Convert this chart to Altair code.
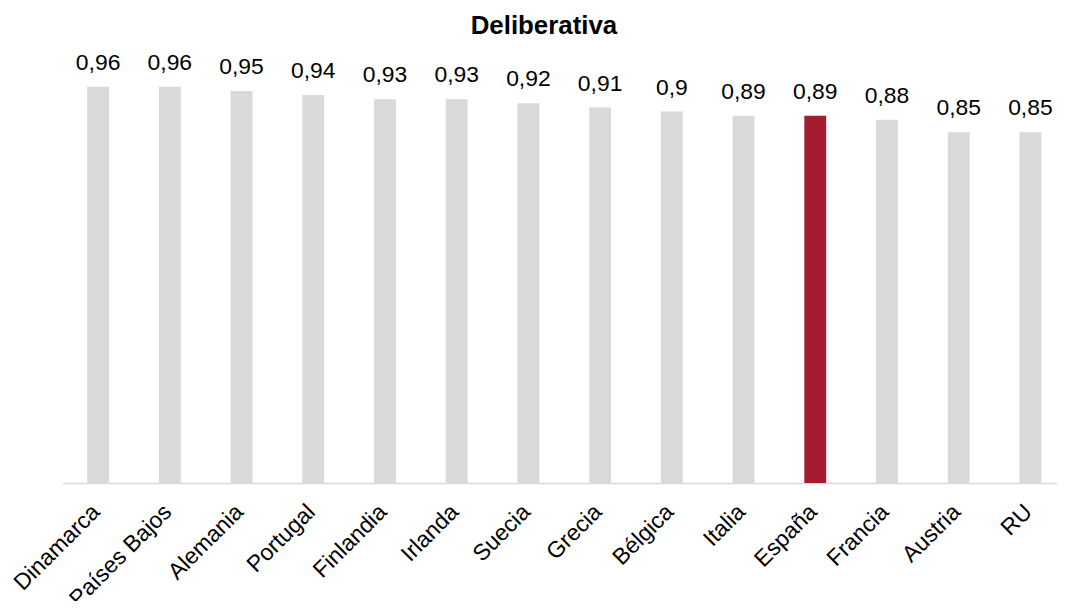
import altair as alt
import pandas as pd

title_text = "Deliberativa"
countries = ["Dinamarca", "Países Bajos", "Alemania", "Portugal", "Finlandia", "Irlanda",
             "Suecia", "Grecia", "Bélgica", "Italia", "España", "Francia", "Austria", "RU"]
values = [0.96, 0.96, 0.95, 0.94, 0.93, 0.93, 0.92, 0.91, 0.90, 0.89, 0.89, 0.88, 0.85, 0.85]
highlight = "España"

df = pd.DataFrame({
    "pais": countries,
    "valor": values,
    "etiqueta": [str(v).replace(".", ",") for v in values],
    "destacado": ["si" if c == highlight else "no" for c in countries],
})

FONT = "Liberation Sans"

x = alt.X("pais:N", sort=countries, title=None,
          scale=alt.Scale(paddingInner=0.695, paddingOuter=0.28, align=0.61),
          axis=alt.Axis(labelAngle=-45, labelAlign="right", labelBaseline="alphabetic",
                        labelPadding=30, labelOffset=3, ticks=False, labelFontSize=23,
                        labelFont=FONT, labelColor="#000000", domainColor="#D9D9D9",
                        domainWidth=1.5, grid=False))
y = alt.Y("valor:Q", scale=alt.Scale(domain=[0, 1], nice=False, zero=True), axis=None)

bars = alt.Chart(df).mark_bar().encode(
    x=x, y=y,
    color=alt.Color("destacado:N",
                    scale=alt.Scale(domain=["no", "si"], range=["#D9D9D9", "#A51C30"]),
                    legend=None),
)

labels = alt.Chart(df).mark_text(baseline="alphabetic", align="center", dy=-17,
                                 fontSize=23, font=FONT, color="#000000").encode(
    x=alt.X("pais:N", sort=countries), y="valor:Q", text="etiqueta:N")

title = alt.Chart(pd.DataFrame({"t": [title_text]})).mark_text(
    baseline="alphabetic", align="center", fontSize=26, fontWeight="bold",
    font=FONT, color="#000000").encode(
    x=alt.value(484), y=alt.value(-37), text="t:N")

chart = (bars + labels + title).properties(
    width=1000, height=415,
    autosize=alt.AutoSizeParams(type="none"),
    padding={"left": 55, "top": 61, "right": 0, "bottom": 117},
).configure_view(stroke=None)

chart.save("out.html", embed_options={"renderer": "svg", "actions": False})
